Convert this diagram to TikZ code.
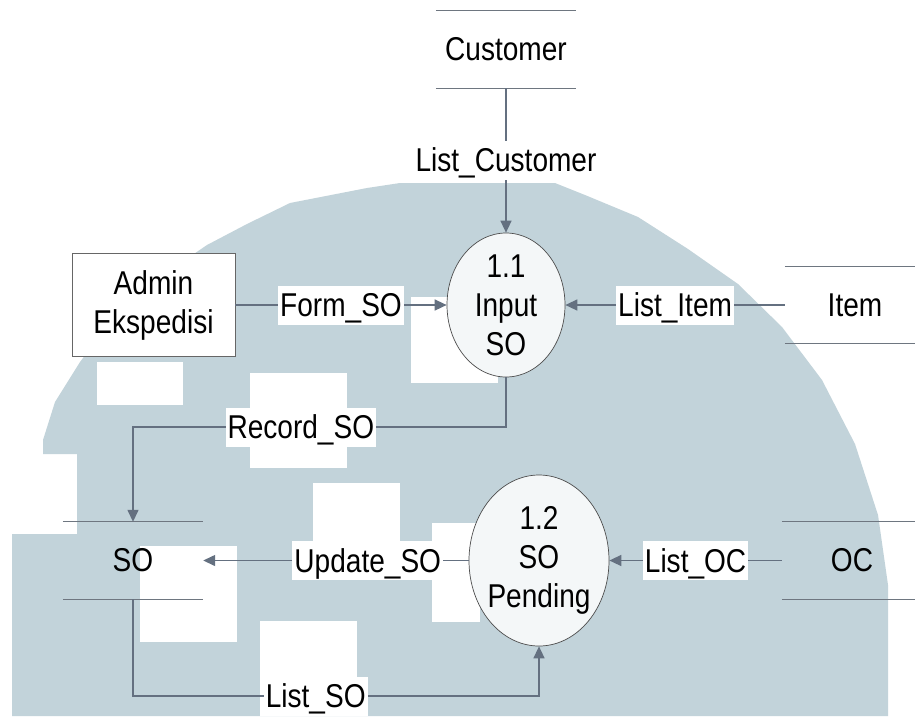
\documentclass[tikz,border=0pt]{standalone}
\usepackage{fontspec}
\setmainfont{Liberation Sans}[FakeStretch=0.85]
\usetikzlibrary{arrows.meta,shapes.geometric}
\definecolor{wmblue}{RGB}{194,211,218}
\definecolor{flowc}{RGB}{100,112,128}
\definecolor{storec}{RGB}{110,118,128}
\definecolor{procfill}{RGB}{244,247,248}
\begin{document}
\begin{tikzpicture}[x=1pt,y=-1pt,
  font=\fontsize{33}{39}\selectfont,
  flow/.style={draw=flowc, line width=1.4pt, -{Triangle[length=12pt,width=11pt]}},
  lbl/.style={fill=white, inner xsep=2pt, inner ysep=3pt, text height=28pt, text depth=5pt},
  proc/.style={ellipse, draw=black!70, line width=0.7pt, fill=procfill, inner sep=0pt},
  ptext/.style={align=center, inner sep=0pt},
  ext/.style={rectangle, draw=black!60, fill=white, line width=0.7pt,
    minimum width=163pt, minimum height=103pt, align=center, inner sep=0pt},
  store/.style={minimum width=140pt, minimum height=77pt, inner sep=0pt},
  storeline/.style={draw=storec, line width=1.1pt},
  wmark/.style={fill=wmblue},
  wmgap/.style={fill=white}]

% page area
\clip (0,0) rectangle (915,716);
\fill[white] (0,0) rectangle (915,716);

% background emblem
\fill[wmark] (12,716) -- (12,534) -- (77,534) -- (77,454) -- (43,454) -- (43,440)
  -- (55,402) -- (80,362) -- (110,322) -- (150,284) -- (207,245) -- (247,224)
  -- (290,203) -- (367,188) -- (400,183) -- (555,183) -- (585,195) -- (638,217)
  -- (688,249) -- (738,284) -- (782,327) -- (822,380) -- (855,444) -- (878,515)
  -- (888,585) -- (888,716) -- cycle;
\fill[wmgap] (97,362) rectangle (183,405);
\fill[wmgap] (250,373) rectangle (347,468);
\fill[wmgap] (313,483) rectangle (400,543);
\fill[wmgap] (432,523) rectangle (480,622);
\fill[wmgap] (140,546) rectangle (237,642);
\fill[wmgap] (260,621) rectangle (357,716);
\fill[wmgap] (411,297) rectangle (498,383);

% data stores
\node[store] (cust) at (506,49.5) {Customer};
\node[store] (item) at (855,305) {Item};
\node[store] (so) at (133,560.5) {SO};
\node[store] (oc) at (852,560.5) {OC};
\foreach \s in {cust,item,so,oc}
  \draw[storeline] (\s.north west) -- (\s.north east) (\s.south west) -- (\s.south east);

% external entity
\node[ext] (admin) at (153.5,305) {Admin\\Ekspedisi};

% processes
\node[proc, minimum width=118pt, minimum height=144pt] (e11) at (506,305) {};
\node[ptext] (t11) at (e11) {1.1\\Input\\SO};
\node[proc, minimum width=140pt, minimum height=171pt] (e12) at (539,560.5) {};
\node[ptext] (t12) at (e12) {1.2\\SO\\Pending};

% data flows
\coordinate (recy) at (0,427);
\coordinate (lsy) at (0,696);
\draw[flow] (cust.south) -- node[lbl]{List\_Customer} (e11.north);
\draw[flow] (admin.east) -- node[lbl]{Form\_SO} (e11.west);
\draw[flow] (item.west) -- node[lbl]{List\_Item} (e11.east);
\draw[flow] (e11.south) -- (e11.south |- recy) -- node[lbl,pos=0.55]{Record\_SO} (so.north |- recy) -- (so.north);
\draw[flow] (e12.west) -- node[lbl,pos=0.38]{Update\_SO} (so.east);
\draw[flow] (oc.west) -- node[lbl]{List\_OC} (e12.east);
\draw[flow] (so.south) -- (so.south |- lsy) -- node[lbl,pos=0.45]{List\_SO} (e12.south |- lsy) -- (e12.south);
\end{tikzpicture}
\end{document}
